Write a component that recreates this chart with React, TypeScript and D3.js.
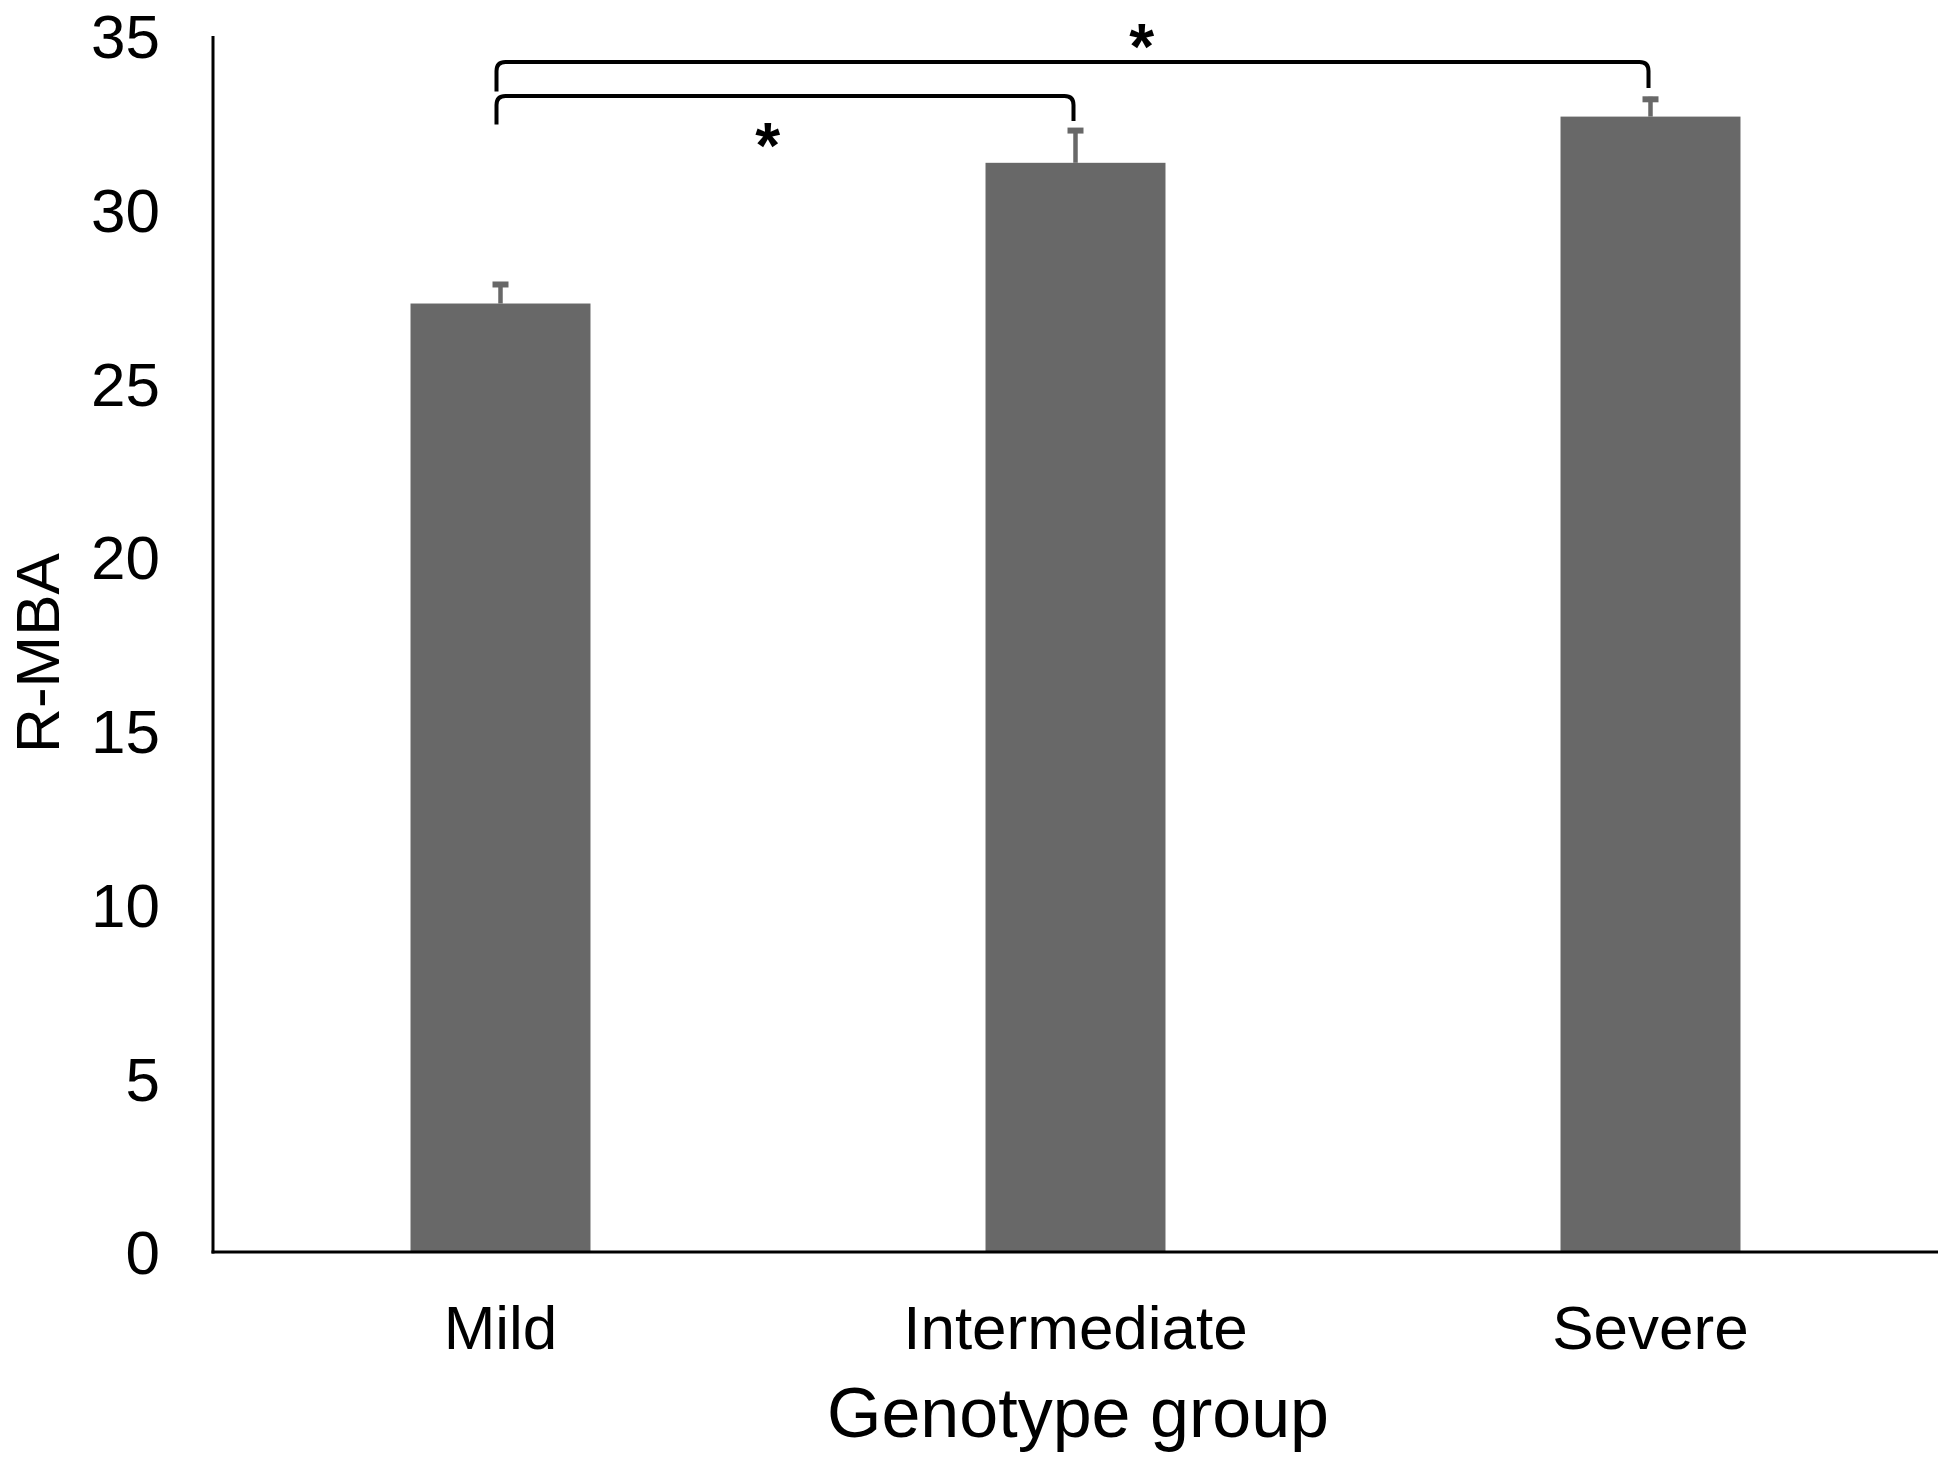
import React from "react";
import * as d3 from "d3";

const categories = ["Mild", "Intermediate", "Severe"];
const means = [27.3, 31.35, 32.68];
const errors = [0.62, 1.0, 0.57];
const yTicks = [0, 5, 10, 15, 20, 25, 30, 35];
const xTitle = "Genotype group";
const yTitle = "R-MBA";

// significance brackets: from, to, bar level, left leg end, right leg end, star x fraction, star centre y
const bracketFrom = ["Mild", "Mild"];
const bracketTo = ["Severe", "Intermediate"];
const bracketLevel = [34.25, 33.27];
const bracketLegLeft = [33.4, 32.45];
const bracketLegRight = [33.5, 32.55];
const starFrac = [0.56, 0.47];
const starY = [35.02, 32.19];
const starText = ["*", "*"];

const W = 1950;
const H = 1465;
const FONT = "'Liberation Sans', Arial, Helvetica, sans-serif";

export default function App() {
  const left = 213;
  const right = 1938;
  const yBottom = 1252;
  const yTop = 36;

  const x = d3
    .scaleBand<string>()
    .domain(categories)
    .range([left, right])
    .paddingInner(0.687)
    .paddingOuter(0.3435);
  const y = d3.scaleLinear().domain([0, 35]).range([yBottom, yTop]);
  const cx = (c: string) => (x(c) as number) + x.bandwidth() / 2;

  const barColor = "#686868";
  const r = 9;

  return (
    <svg
      width={W}
      height={H}
      style={{ position: "absolute", left: 0, top: 0, background: "#fff" }}
      fontFamily={FONT}
    >
      <rect x={0} y={0} width={W} height={H} fill="#fff" />
      {/* bars */}
      {categories.map((c, i) => (
        <rect
          key={c}
          x={x(c)}
          y={y(means[i])}
          width={x.bandwidth()}
          height={y(0) - y(means[i])}
          fill={barColor}
        />
      ))}
      {/* error bars */}
      {categories.map((c, i) => (
        <g key={"e" + c} stroke={barColor}>
          <line
            x1={cx(c)}
            x2={cx(c)}
            y1={y(means[i])}
            y2={y(means[i] + errors[i])}
            strokeWidth={4.5}
          />
          <line
            x1={cx(c) - 8}
            x2={cx(c) + 8}
            y1={y(means[i] + errors[i]) + 2.5}
            y2={y(means[i] + errors[i]) + 2.5}
            strokeWidth={6}
          />
        </g>
      ))}
      {/* axes */}
      <line x1={left} x2={left} y1={y(35)} y2={yBottom + 1.5} stroke="#000" strokeWidth={3} />
      <line x1={left - 1.5} x2={right} y1={yBottom} y2={yBottom} stroke="#000" strokeWidth={3} />
      {/* y ticks */}
      {yTicks.map((t) => (
        <text
          key={t}
          x={160}
          y={y(t)}
          dy="0.36em"
          textAnchor="end"
          fontSize={62}
          fill="#000"
        >
          {t}
        </text>
      ))}
      {/* x labels */}
      {categories.map((c) => (
        <text
          key={"l" + c}
          x={cx(c)}
          y={1349}
          textAnchor="middle"
          fontSize={62}
          fill="#000"
        >
          {c}
        </text>
      ))}
      <text x={1078} y={1437} textAnchor="middle" fontSize={70} fill="#000">
        {xTitle}
      </text>
      <text
        transform={`translate(59,653) rotate(-90)`}
        textAnchor="middle"
        fontSize={62}
        fill="#000"
      >
        {yTitle}
      </text>
      {/* brackets */}
      {bracketFrom.map((f, i) => {
        const x1 = cx(f) - 4;
        const x2 = cx(bracketTo[i]) - 2;
        const yl = y(bracketLevel[i]);
        const path = `M${x1},${y(bracketLegLeft[i])} L${x1},${yl + r} Q${x1},${yl} ${x1 + r},${yl} L${x2 - r},${yl} Q${x2},${yl} ${x2},${yl + r} L${x2},${y(bracketLegRight[i])}`;
        const sx = x1 + (x2 - x1) * starFrac[i];
        return (
          <g key={"b" + i}>
            <path d={path} fill="none" stroke="#000" strokeWidth={4} />
            <text
              x={sx}
              y={y(starY[i])}
              dy="0.53em"
              textAnchor="middle"
              fontSize={64}
              fontWeight="bold"
              fill="#000"
            >
              {starText[i]}
            </text>
          </g>
        );
      })}
    </svg>
  );
}
